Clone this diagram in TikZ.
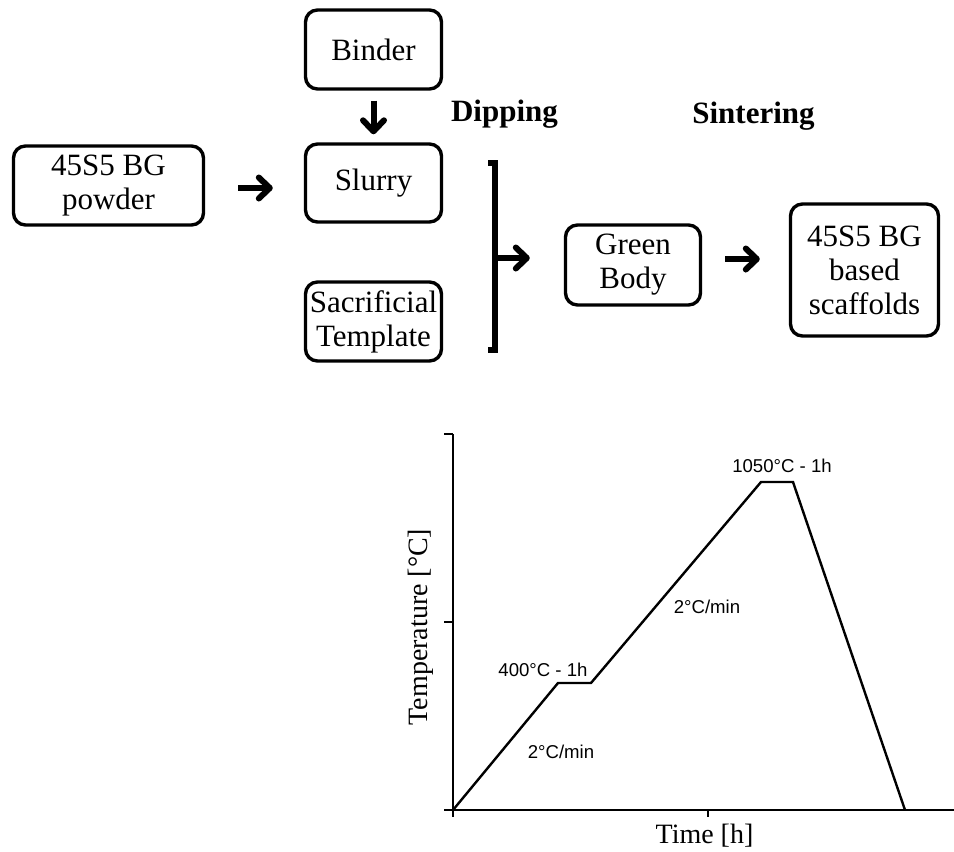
\documentclass[tikz,border=0pt]{standalone}
\usepackage{fontspec}
\setmainfont{Liberation Serif}
\newfontfamily\chartfont{Liberation Sans}
\usetikzlibrary{arrows.meta}

\tikzset{
    procbox/.style={draw, line width=1.7pt, rounded corners=6pt, align=center,
        inner sep=0pt, font=\fontsize{15.5}{17}\selectfont},
    flowarrow/.style={line width=3pt, -{Straight Barb[length=5.5pt,width=10.5pt,round]}},
    stagelabel/.style={font=\fontsize{15.5}{17}\selectfont\bfseries},
    ratelabel/.style={font=\chartfont\fontsize{9.3}{11}\selectfont, inner sep=0pt},
    axislabel/.style={font=\fontsize{14}{16}\selectfont, inner sep=0pt}
}

\begin{document}
\begin{tikzpicture}[x=0.5pt, y=-0.5pt]
    \useasboundingbox (0,0) rectangle (954,852);

    % Define the positions of the boxes
    \coordinate (binderPos) at (373.5, 49.5);
    \coordinate (powderPos) at (108.5, 185.5);
    \coordinate (slurryPos) at (373.5, 183);
    \coordinate (templatePos) at (373.5, 321.5);
    \coordinate (greenPos) at (633, 265);
    \coordinate (scaffoldPos) at (864.5, 270);

    % Draw the boxes
    \node[procbox, minimum width=68pt, minimum height=39.5pt] (binder) at (binderPos) {Binder};
    \node[procbox, minimum width=95pt, minimum height=39.5pt] (powder) at (powderPos) {45S5 BG\\powder};
    \node[procbox, minimum width=68pt, minimum height=39pt] (slurry) at (slurryPos) {Slurry};
    \node[procbox, minimum width=68pt, minimum height=39.5pt] (template) at (templatePos) {Sacrificial\\Template};
    \node[procbox, minimum width=67.5pt, minimum height=40pt] (green) at (greenPos) {Green\\Body};
    \node[procbox, minimum width=74pt, minimum height=66pt] (scaffold) at (scaffoldPos) {45S5 BG\\based\\scaffolds};

    % Stage labels
    \node[stagelabel] (dipping) at (504.5, 114) {Dipping};
    \node[stagelabel] (sintering) at (753.5, 116) {Sintering};

    % Draw the bracket joining slurry and template
    \coordinate (brkTop) at (495, 163);
    \coordinate (brkBot) at (495, 350);
    \coordinate (brkMid) at (495, 258);
    \draw[line width=3pt] ([xshift=-3.5pt]brkTop) -- (brkTop) -- (brkBot) -- ([xshift=-3.5pt]brkBot);

    % Draw the arrows
    \draw[flowarrow, shorten <=16.5pt, shorten >=15.5pt] (powder.east |- 0,188) -- (slurry.west |- 0,188);
    \draw[flowarrow, shorten <=5pt, shorten >=4pt] (binder.south) -- (slurry.north);
    \draw[flowarrow, shorten >=17pt] (brkMid) -- (brkMid -| green.west);
    \draw[flowarrow, shorten <=11.5pt, shorten >=14.5pt] (green.east |- 0,259) -- (scaffold.west |- 0,259);

    % Firing schedule
    \coordinate (origin) at (453, 810);
    \coordinate (yTop) at (453, 434);
    \coordinate (xEnd) at (954, 810);
    \draw[line width=1pt] (yTop) -- (origin) -- (xEnd);
    \foreach \ty in {434, 622, 810}
        \draw[line width=1pt] (444, \ty) -- (453, \ty);
    \foreach \tx in {453, 708}
        \draw[line width=1pt] (\tx, 810) -- (\tx, 817);

    \draw[line width=1.2pt, line join=miter] (origin) -- (558, 683) -- (591, 683)
        -- (761, 482) -- (793, 482) -- (905, 810);

    \node[ratelabel] (hold1) at (543, 670) {400°C - 1h};
    \node[ratelabel] (rate1) at (561, 752) {2°C/min};
    \node[ratelabel] (rate2) at (707, 607) {2°C/min};
    \node[ratelabel] (hold2) at (782, 466) {1050°C - 1h};

    \node[axislabel] (xlabel) at (704.5, 836) {Time [h]};
    \node[axislabel, rotate=90] (ylabel) at (421, 627) {Temperature [°C]};
\end{tikzpicture}
\end{document}
